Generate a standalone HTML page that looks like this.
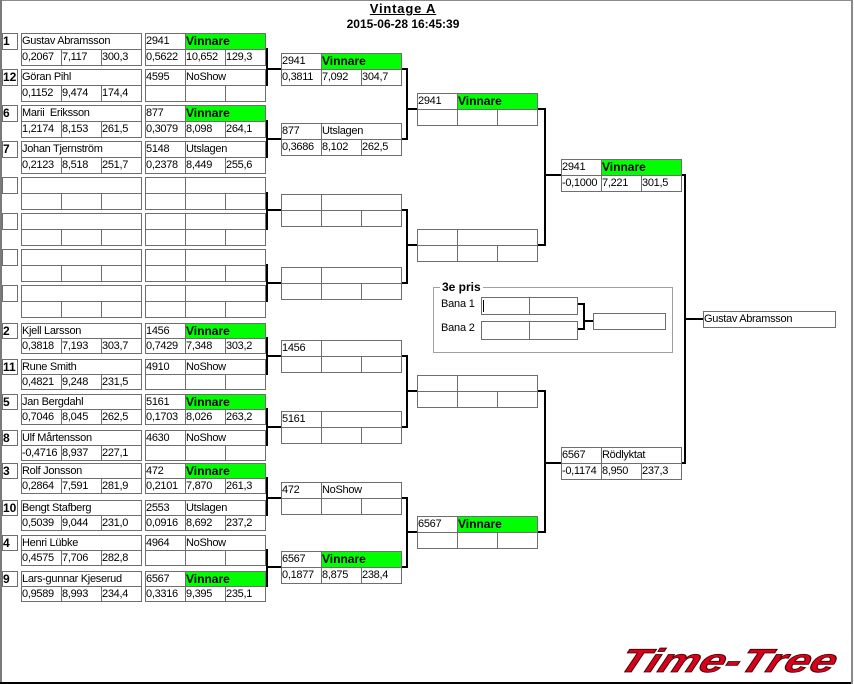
<!DOCTYPE html>
<html><head><meta charset="utf-8">
<style>
html,body{margin:0;padding:0}
body{width:854px;height:684px;position:relative;overflow:hidden;background:#fff;font-family:"Liberation Sans",sans-serif;color:#000}
.g{position:absolute}
.c{position:absolute;box-sizing:border-box;border:1px solid #6e6e6e;height:17px;top:0;font-size:11px;line-height:15px;letter-spacing:-0.3px;padding-left:0;white-space:nowrap;overflow:hidden;background:#fff}
.s .c{height:16px;line-height:14px}
.t2{top:16px}
.s .t2{top:15px}
.a{left:0;width:41px}.b{left:40px;width:41px}.k{left:80px;width:41px}.w{left:0;width:121px}.st{left:40px;width:81px}
.v{background:#00ff00;font-weight:bold;font-size:12px;letter-spacing:0}
.sd{position:absolute;left:2px;width:16px;height:17px;box-sizing:border-box;border:1px solid #6e6e6e;font-weight:bold;font-size:12px;line-height:15px;padding-left:0;background:#fff}
.sd.s{height:16px;line-height:14px}
.L{position:absolute;background:#000}
</style></head><body>
<!-- page borders -->
<div class="L" style="left:0;top:0;width:852px;height:1px;background:#8a8a8a"></div>
<div class="L" style="left:0;top:0;width:2px;height:684px;background:#7a7a7a"></div>
<div class="L" style="left:851px;top:0;width:2px;height:684px;background:#8a8a8a"></div>
<div class="L" style="left:0;top:682px;width:851px;height:2px"></div>

<!-- title -->
<div style="position:absolute;left:303px;top:1px;width:200px;text-align:center;font-weight:bold;font-size:13px;line-height:15px;letter-spacing:0.8px;text-decoration:underline">Vintage A</div>
<div style="position:absolute;left:303px;top:17px;width:200px;text-align:center;font-weight:bold;font-size:12px;line-height:14px">2015-06-28 16:45:39</div>

<!-- ROUND 1 upper -->
<div class="sd" style="top:33px">1</div>
<div class="g" style="left:21px;top:33px"><div class="c w">Gustav Abramsson</div><div class="c t2 a">0,2067</div><div class="c t2 b">7,117</div><div class="c t2 k">300,3</div></div>
<div class="g" style="left:145px;top:33px"><div class="c a">2941</div><div class="c st v">Vinnare</div><div class="c t2 a">0,5622</div><div class="c t2 b">10,652</div><div class="c t2 k">129,3</div></div>

<div class="sd" style="top:69px">12</div>
<div class="g" style="left:21px;top:69px"><div class="c w">Göran Pihl</div><div class="c t2 a">0,1152</div><div class="c t2 b">9,474</div><div class="c t2 k">174,4</div></div>
<div class="g" style="left:145px;top:69px"><div class="c a">4595</div><div class="c st">NoShow</div><div class="c t2 a"></div><div class="c t2 b"></div><div class="c t2 k"></div></div>

<div class="sd" style="top:105px">6</div>
<div class="g" style="left:21px;top:105px"><div class="c w">Marii&nbsp; Eriksson</div><div class="c t2 a">1,2174</div><div class="c t2 b">8,153</div><div class="c t2 k">261,5</div></div>
<div class="g" style="left:145px;top:105px"><div class="c a">877</div><div class="c st v">Vinnare</div><div class="c t2 a">0,3079</div><div class="c t2 b">8,098</div><div class="c t2 k">264,1</div></div>

<div class="sd" style="top:141px">7</div>
<div class="g" style="left:21px;top:141px"><div class="c w">Johan Tjernström</div><div class="c t2 a">0,2123</div><div class="c t2 b">8,518</div><div class="c t2 k">251,7</div></div>
<div class="g" style="left:145px;top:141px"><div class="c a">5148</div><div class="c st">Utslagen</div><div class="c t2 a">0,2378</div><div class="c t2 b">8,449</div><div class="c t2 k">255,6</div></div>

<div class="sd" style="top:177px"></div>
<div class="g" style="left:21px;top:177px"><div class="c w"></div><div class="c t2 a"></div><div class="c t2 b"></div><div class="c t2 k"></div></div>
<div class="g" style="left:145px;top:177px"><div class="c a"></div><div class="c st"></div><div class="c t2 a"></div><div class="c t2 b"></div><div class="c t2 k"></div></div>

<div class="sd" style="top:213px"></div>
<div class="g" style="left:21px;top:213px"><div class="c w"></div><div class="c t2 a"></div><div class="c t2 b"></div><div class="c t2 k"></div></div>
<div class="g" style="left:145px;top:213px"><div class="c a"></div><div class="c st"></div><div class="c t2 a"></div><div class="c t2 b"></div><div class="c t2 k"></div></div>

<div class="sd" style="top:249px"></div>
<div class="g" style="left:21px;top:249px"><div class="c w"></div><div class="c t2 a"></div><div class="c t2 b"></div><div class="c t2 k"></div></div>
<div class="g" style="left:145px;top:249px"><div class="c a"></div><div class="c st"></div><div class="c t2 a"></div><div class="c t2 b"></div><div class="c t2 k"></div></div>

<div class="sd" style="top:285px"></div>
<div class="g" style="left:21px;top:285px"><div class="c w"></div><div class="c t2 a"></div><div class="c t2 b"></div><div class="c t2 k"></div></div>
<div class="g" style="left:145px;top:285px"><div class="c a"></div><div class="c st"></div><div class="c t2 a"></div><div class="c t2 b"></div><div class="c t2 k"></div></div>

<!-- ROUND 1 lower -->
<div class="sd s" style="top:323px">2</div>
<div class="g s" style="left:21px;top:323px"><div class="c w">Kjell Larsson</div><div class="c t2 a">0,3818</div><div class="c t2 b">7,193</div><div class="c t2 k">303,7</div></div>
<div class="g s" style="left:145px;top:323px"><div class="c a">1456</div><div class="c st v">Vinnare</div><div class="c t2 a">0,7429</div><div class="c t2 b">7,348</div><div class="c t2 k">303,2</div></div>

<div class="sd s" style="top:359px">11</div>
<div class="g s" style="left:21px;top:359px"><div class="c w">Rune Smith</div><div class="c t2 a">0,4821</div><div class="c t2 b">9,248</div><div class="c t2 k">231,5</div></div>
<div class="g s" style="left:145px;top:359px"><div class="c a">4910</div><div class="c st">NoShow</div><div class="c t2 a"></div><div class="c t2 b"></div><div class="c t2 k"></div></div>

<div class="sd s" style="top:394px">5</div>
<div class="g s" style="left:21px;top:394px"><div class="c w">Jan Bergdahl</div><div class="c t2 a">0,7046</div><div class="c t2 b">8,045</div><div class="c t2 k">262,5</div></div>
<div class="g s" style="left:145px;top:394px"><div class="c a">5161</div><div class="c st v">Vinnare</div><div class="c t2 a">0,1703</div><div class="c t2 b">8,026</div><div class="c t2 k">263,2</div></div>

<div class="sd s" style="top:430px">8</div>
<div class="g s" style="left:21px;top:430px"><div class="c w">Ulf Mårtensson</div><div class="c t2 a">-0,4716</div><div class="c t2 b">8,937</div><div class="c t2 k">227,1</div></div>
<div class="g s" style="left:145px;top:430px"><div class="c a">4630</div><div class="c st">NoShow</div><div class="c t2 a"></div><div class="c t2 b"></div><div class="c t2 k"></div></div>

<div class="sd s" style="top:463px">3</div>
<div class="g s" style="left:21px;top:463px"><div class="c w">Rolf Jonsson</div><div class="c t2 a">0,2864</div><div class="c t2 b">7,591</div><div class="c t2 k">281,9</div></div>
<div class="g s" style="left:145px;top:463px"><div class="c a">472</div><div class="c st v">Vinnare</div><div class="c t2 a">0,2101</div><div class="c t2 b">7,870</div><div class="c t2 k">261,3</div></div>

<div class="sd s" style="top:500px">10</div>
<div class="g s" style="left:21px;top:500px"><div class="c w">Bengt Stafberg</div><div class="c t2 a">0,5039</div><div class="c t2 b">9,044</div><div class="c t2 k">231,0</div></div>
<div class="g s" style="left:145px;top:500px"><div class="c a">2553</div><div class="c st">Utslagen</div><div class="c t2 a">0,0916</div><div class="c t2 b">8,692</div><div class="c t2 k">237,2</div></div>

<div class="sd s" style="top:535px">4</div>
<div class="g s" style="left:21px;top:535px"><div class="c w">Henri Lübke</div><div class="c t2 a">0,4575</div><div class="c t2 b">7,706</div><div class="c t2 k">282,8</div></div>
<div class="g s" style="left:145px;top:535px"><div class="c a">4964</div><div class="c st">NoShow</div><div class="c t2 a"></div><div class="c t2 b"></div><div class="c t2 k"></div></div>

<div class="sd s" style="top:571px">9</div>
<div class="g s" style="left:21px;top:571px"><div class="c w">Lars-gunnar Kjeserud</div><div class="c t2 a">0,9589</div><div class="c t2 b">8,993</div><div class="c t2 k">234,4</div></div>
<div class="g s" style="left:145px;top:571px"><div class="c a">6567</div><div class="c st v">Vinnare</div><div class="c t2 a">0,3316</div><div class="c t2 b">9,395</div><div class="c t2 k">235,1</div></div>

<!-- ROUND 2 -->
<div class="g" style="left:281px;top:53px"><div class="c a">2941</div><div class="c st v">Vinnare</div><div class="c t2 a">0,3811</div><div class="c t2 b">7,092</div><div class="c t2 k">304,7</div></div>
<div class="g" style="left:281px;top:123px"><div class="c a">877</div><div class="c st">Utslagen</div><div class="c t2 a">0,3686</div><div class="c t2 b">8,102</div><div class="c t2 k">262,5</div></div>
<div class="g" style="left:281px;top:194px"><div class="c a"></div><div class="c st"></div><div class="c t2 a"></div><div class="c t2 b"></div><div class="c t2 k"></div></div>
<div class="g" style="left:281px;top:267px"><div class="c a"></div><div class="c st"></div><div class="c t2 a"></div><div class="c t2 b"></div><div class="c t2 k"></div></div>
<div class="g" style="left:281px;top:340px"><div class="c a">1456</div><div class="c st"></div><div class="c t2 a"></div><div class="c t2 b"></div><div class="c t2 k"></div></div>
<div class="g" style="left:281px;top:411px"><div class="c a">5161</div><div class="c st"></div><div class="c t2 a"></div><div class="c t2 b"></div><div class="c t2 k"></div></div>
<div class="g" style="left:281px;top:482px"><div class="c a">472</div><div class="c st">NoShow</div><div class="c t2 a"></div><div class="c t2 b"></div><div class="c t2 k"></div></div>
<div class="g" style="left:281px;top:551px"><div class="c a">6567</div><div class="c st v">Vinnare</div><div class="c t2 a">0,1877</div><div class="c t2 b">8,875</div><div class="c t2 k">238,4</div></div>

<!-- ROUND 3 -->
<div class="g" style="left:417px;top:93px"><div class="c a">2941</div><div class="c st v">Vinnare</div><div class="c t2 a"></div><div class="c t2 b"></div><div class="c t2 k"></div></div>
<div class="g" style="left:417px;top:229px"><div class="c a"></div><div class="c st"></div><div class="c t2 a"></div><div class="c t2 b"></div><div class="c t2 k"></div></div>
<div class="g" style="left:417px;top:375px"><div class="c a"></div><div class="c st"></div><div class="c t2 a"></div><div class="c t2 b"></div><div class="c t2 k"></div></div>
<div class="g" style="left:417px;top:516px"><div class="c a">6567</div><div class="c st v">Vinnare</div><div class="c t2 a"></div><div class="c t2 b"></div><div class="c t2 k"></div></div>

<!-- ROUND 4 -->
<div class="g" style="left:561px;top:159px"><div class="c a">2941</div><div class="c st v">Vinnare</div><div class="c t2 a">-0,1000</div><div class="c t2 b">7,221</div><div class="c t2 k">301,5</div></div>
<div class="g" style="left:561px;top:447px"><div class="c a">6567</div><div class="c st">Rödlyktat</div><div class="c t2 a">-0,1174</div><div class="c t2 b">8,950</div><div class="c t2 k">237,3</div></div>

<!-- Final -->
<div class="c" style="left:703px;top:311px;width:133px">Gustav Abramsson</div>

<!-- Connectors col1 -->
<div class="L" style="left:266px;top:48px;width:2px;height:38px"></div><div class="L" style="left:268px;top:68px;width:13px;height:2px"></div>
<div class="L" style="left:266px;top:120px;width:2px;height:38px"></div><div class="L" style="left:268px;top:138px;width:13px;height:2px"></div>
<div class="L" style="left:266px;top:192px;width:2px;height:38px"></div><div class="L" style="left:268px;top:209px;width:13px;height:2px"></div>
<div class="L" style="left:266px;top:264px;width:2px;height:38px"></div><div class="L" style="left:268px;top:282px;width:13px;height:2px"></div>
<div class="L" style="left:266px;top:337px;width:2px;height:38px"></div><div class="L" style="left:268px;top:355px;width:13px;height:2px"></div>
<div class="L" style="left:266px;top:408px;width:2px;height:38px"></div><div class="L" style="left:268px;top:426px;width:13px;height:2px"></div>
<div class="L" style="left:266px;top:477px;width:2px;height:39px"></div><div class="L" style="left:268px;top:497px;width:13px;height:2px"></div>
<div class="L" style="left:266px;top:549px;width:2px;height:38px"></div><div class="L" style="left:268px;top:566px;width:13px;height:2px"></div>

<!-- Connectors col2 -->
<div class="L" style="left:402px;top:68px;width:6px;height:2px"></div><div class="L" style="left:402px;top:138px;width:6px;height:2px"></div>
<div class="L" style="left:406px;top:68px;width:2px;height:72px"></div><div class="L" style="left:408px;top:108px;width:9px;height:2px"></div>
<div class="L" style="left:402px;top:209px;width:6px;height:2px"></div><div class="L" style="left:402px;top:282px;width:6px;height:2px"></div>
<div class="L" style="left:406px;top:209px;width:2px;height:75px"></div><div class="L" style="left:408px;top:244px;width:9px;height:2px"></div>
<div class="L" style="left:402px;top:355px;width:6px;height:2px"></div><div class="L" style="left:402px;top:426px;width:6px;height:2px"></div>
<div class="L" style="left:406px;top:355px;width:2px;height:73px"></div><div class="L" style="left:408px;top:390px;width:9px;height:2px"></div>
<div class="L" style="left:402px;top:497px;width:6px;height:2px"></div><div class="L" style="left:402px;top:566px;width:6px;height:2px"></div>
<div class="L" style="left:406px;top:497px;width:2px;height:71px"></div><div class="L" style="left:408px;top:531px;width:9px;height:2px"></div>

<!-- Connectors col3 -->
<div class="L" style="left:538px;top:108px;width:8px;height:2px"></div><div class="L" style="left:538px;top:244px;width:8px;height:2px"></div>
<div class="L" style="left:544px;top:108px;width:2px;height:138px"></div><div class="L" style="left:546px;top:174px;width:15px;height:2px"></div>
<div class="L" style="left:538px;top:390px;width:8px;height:2px"></div><div class="L" style="left:538px;top:531px;width:8px;height:2px"></div>
<div class="L" style="left:544px;top:390px;width:2px;height:143px"></div><div class="L" style="left:546px;top:462px;width:15px;height:2px"></div>

<!-- Connectors col4 -->
<div class="L" style="left:682px;top:174px;width:4px;height:2px"></div><div class="L" style="left:682px;top:462px;width:4px;height:2px"></div>
<div class="L" style="left:684px;top:174px;width:2px;height:290px"></div><div class="L" style="left:686px;top:318px;width:17px;height:2px"></div>

<!-- 3e pris -->
<div style="position:absolute;left:433px;top:287px;width:240px;height:66px;box-sizing:border-box;border:1px solid #a0a0a0"></div>
<div style="position:absolute;left:440px;top:280px;padding:0 2px;background:#fff;font-weight:bold;font-size:12px;line-height:14px">3e pris</div>
<div style="position:absolute;left:441px;top:297px;font-size:11px;line-height:15px;letter-spacing:-0.2px">Bana 1</div>
<div style="position:absolute;left:441px;top:321px;font-size:11px;line-height:15px;letter-spacing:-0.2px">Bana 2</div>
<div class="c" style="left:481px;top:297px;width:49px;height:18px"></div>
<div class="c" style="left:529px;top:297px;width:49px;height:18px"></div>
<div class="L" style="left:483px;top:300px;width:1px;height:12px"></div>
<div class="c" style="left:481px;top:321px;width:49px;height:19px"></div>
<div class="c" style="left:529px;top:321px;width:49px;height:19px"></div>
<div class="L" style="left:578px;top:303px;width:7px;height:2px"></div>
<div class="L" style="left:578px;top:328px;width:7px;height:2px"></div>
<div class="L" style="left:583px;top:303px;width:2px;height:27px"></div>
<div class="L" style="left:585px;top:320px;width:8px;height:2px"></div>
<div class="c" style="left:593px;top:313px;width:73px;height:17px"></div>

<!-- logo -->
<div style="position:absolute;left:616px;top:644px;font-family:'Liberation Sans',sans-serif;font-weight:bold;font-style:italic;font-size:33px;line-height:34px;color:#d8001a;-webkit-text-stroke:0.8px #3a0000;white-space:nowrap;transform-origin:0 29px;transform:skewX(-22deg) scaleX(1.38)">Time-Tree</div>
</body></html>
